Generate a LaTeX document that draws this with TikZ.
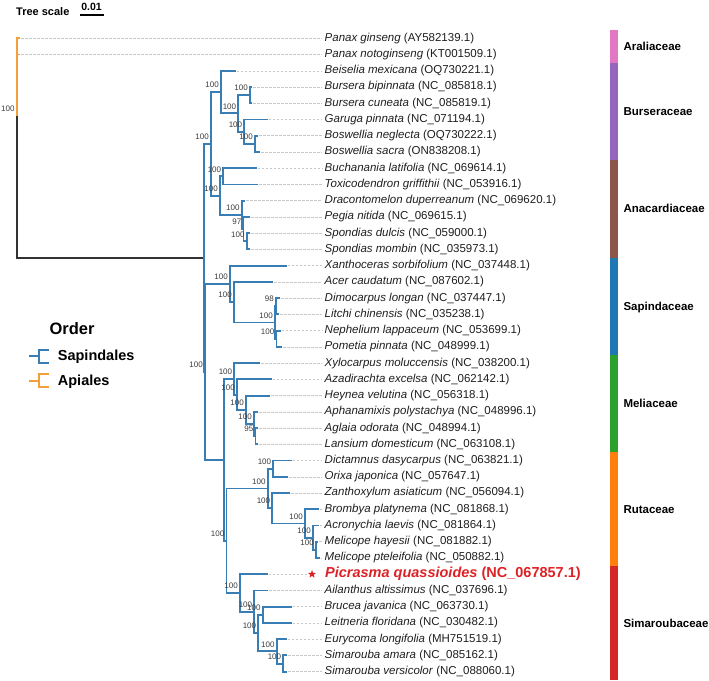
\documentclass[tikz,border=0pt]{standalone}
\usepackage{fontspec}
\setmainfont{Liberation Sans}
\usetikzlibrary{shapes.geometric}

\definecolor{sapblue}{RGB}{56,126,180}
\definecolor{apiorange}{RGB}{243,160,60}
\definecolor{rootgrey}{RGB}{50,50,50}
\definecolor{leadgrey}{RGB}{200,200,200}
\definecolor{txtgrey}{RGB}{30,30,30}
\definecolor{bootgrey}{RGB}{60,60,60}
\definecolor{picred}{RGB}{222,33,38}
\definecolor{aralcol}{RGB}{227,119,194}
\definecolor{burscol}{RGB}{148,103,189}
\definecolor{anaccol}{RGB}{140,86,75}
\definecolor{sapicol}{RGB}{31,119,180}
\definecolor{meliacol}{RGB}{44,160,44}
\definecolor{rutacol}{RGB}{255,127,14}
\definecolor{simacol}{RGB}{214,39,40}

\begin{document}
\begin{tikzpicture}[x=1pt,y=-1pt,
  branch/.style={line width=1.9pt, draw=sapblue},
  apia/.style={line width=1.9pt, draw=apiorange},
  rootline/.style={line width=1.9pt, draw=rootgrey},
  leader/.style={draw=leadgrey, line width=0.6pt, dash pattern=on 2.5pt off 1.5pt, shorten <=1pt},
  taxon/.style={anchor=west, inner sep=2.5pt, text=txtgrey, font=\fontsize{11.5}{13}\selectfont},
  boot/.style={anchor=south east, inner sep=0pt, xshift=-2pt, yshift=4pt, text=bootgrey, font=\fontsize{8}{9}\selectfont},
  famlab/.style={anchor=west, inner sep=0pt, text height=8.2pt, text depth=0pt, font=\bfseries\fontsize{11.5}{13}\selectfont},
  legendlab/.style={anchor=base west, inner sep=0pt, font=\bfseries\fontsize{14.5}{16}\selectfont}]
  \useasboundingbox (0,0) rectangle (709,680);

  % Tree scale
  \node[anchor=west, inner sep=0pt, text height=8pt, text depth=0pt, font=\bfseries\fontsize{11}{13}\selectfont] (scale) at (16,11.7) {Tree scale};
  \node[inner sep=0pt, font=\bfseries\fontsize{10.5}{12}\selectfont] (scaleval) at (91.5,6.5) {0.01};
  \draw[line width=1.3pt] (80,15) -- (104,15);

  % Internal nodes: root and Apiales
  \coordinate (root) at (16.7,116);
  \coordinate (pnx) at (16.7,46.4);

  % Internal nodes: Sapindales backbone
  \coordinate (sap) at (204,257.9);
  \coordinate (nA) at (211,143.9);
  \coordinate (nR) at (205,371.85);
  \coordinate (md) at (224.3,459.75);
  \coordinate (rs) at (226.5,540.7);

  % Internal nodes: Burseraceae
  \coordinate (burs) at (221,92.1);
  \coordinate (nB) at (238.3,113.4);
  \coordinate (bur) at (250,95.15);
  \coordinate (gb) at (244.3,131.7);
  \coordinate (bos) at (255,143.85);

  % Internal nodes: Anacardiaceae
  \coordinate (ana) at (220,195.6);
  \coordinate (bt) at (223.3,176.35);
  \coordinate (dra) at (241.7,214.9);
  \coordinate (peg) at (243.5,229.1);
  \coordinate (spo) at (246.7,241.3);

  % Internal nodes: Sapindaceae
  \coordinate (sapc) at (230,283.95);
  \coordinate (ac) at (234,302.2);
  \coordinate (lit) at (275,322.5);
  \coordinate (dl) at (276,306.25);
  \coordinate (np) at (276.5,338.75);

  % Internal nodes: Meliaceae
  \coordinate (m1) at (234.3,378.8);
  \coordinate (m2) at (237,394.55);
  \coordinate (m3) at (246,409.8);
  \coordinate (m4) at (254,424);
  \coordinate (m5) at (255.5,436.2);

  % Internal nodes: Rutaceae
  \coordinate (rut) at (267.7,488.45);
  \coordinate (dor) at (273.3,468.65);
  \coordinate (z1) at (272.3,508.25);
  \coordinate (b1) at (305,523.5);
  \coordinate (b2) at (313,537.7);
  \coordinate (mel) at (316,549.85);

  % Internal nodes: Simaroubaceae
  \coordinate (sima) at (240,593);
  \coordinate (s2) at (254.3,611.8);
  \coordinate (s3) at (258.3,633.1);
  \coordinate (bl) at (262.7,614.8);
  \coordinate (s4) at (276.7,651.4);
  \coordinate (sim) at (283.3,663.55);

  % Tips: Araliaceae
  \coordinate (pgin) at (20,38.3);
  \coordinate (pnot) at (20,54.5);
  % Tips: Burseraceae
  \coordinate (beis) at (235.7,70.8);
  \coordinate (bbip) at (252,87.0);
  \coordinate (bcun) at (252,103.3);
  \coordinate (garu) at (267.7,119.5);
  \coordinate (bneg) at (258,135.7);
  \coordinate (bsac) at (260,152.0);
  % Tips: Anacardiaceae
  \coordinate (buch) at (256.7,168.2);
  \coordinate (toxi) at (258.3,184.5);
  \coordinate (drac) at (245,200.7);
  \coordinate (pegi) at (250,216.9);
  \coordinate (sdul) at (250,233.2);
  \coordinate (smom) at (250,249.4);
  % Tips: Sapindaceae
  \coordinate (xant) at (286.7,265.7);
  \coordinate (acer) at (273.3,281.9);
  \coordinate (dimo) at (280,298.1);
  \coordinate (litc) at (279,314.4);
  \coordinate (neph) at (280.5,330.6);
  \coordinate (pome) at (282,346.9);
  % Tips: Meliaceae
  \coordinate (xylo) at (260,363.1);
  \coordinate (azad) at (271.7,379.3);
  \coordinate (heyn) at (270,395.6);
  \coordinate (apha) at (258,411.8);
  \coordinate (agla) at (258,428.1);
  \coordinate (lans) at (258,444.3);
  % Tips: Rutaceae
  \coordinate (dict) at (291.7,460.5);
  \coordinate (orix) at (288.3,476.8);
  \coordinate (zant) at (290,493.0);
  \coordinate (brom) at (319,509.3);
  \coordinate (acro) at (319,525.5);
  \coordinate (mhay) at (318,541.7);
  \coordinate (mpte) at (320,558.0);
  % Tips: Simaroubaceae
  \coordinate (picr) at (267.7,574.2);
  \coordinate (aila) at (268.3,590.5);
  \coordinate (bruc) at (291.7,606.7);
  \coordinate (leit) at (291.7,622.9);
  \coordinate (eury) at (286.7,639.2);
  \coordinate (samr) at (287,655.4);
  \coordinate (sver) at (287,671.7);

  % Taxon labels
  \node[taxon] (pgin-l) at (322,38.3) {\textit{Panax ginseng} (AY582139.1)};
  \node[taxon] (pnot-l) at (322,54.5) {\textit{Panax notoginseng} (KT001509.1)};
  \node[taxon] (beis-l) at (322,70.8) {\textit{Beiselia mexicana} (OQ730221.1)};
  \node[taxon] (bbip-l) at (322,87.0) {\textit{Bursera bipinnata} (NC\_085818.1)};
  \node[taxon] (bcun-l) at (322,103.3) {\textit{Bursera cuneata} (NC\_085819.1)};
  \node[taxon] (garu-l) at (322,119.5) {\textit{Garuga pinnata} (NC\_071194.1)};
  \node[taxon] (bneg-l) at (322,135.7) {\textit{Boswellia neglecta} (OQ730222.1)};
  \node[taxon] (bsac-l) at (322,152.0) {\textit{Boswellia sacra} (ON838208.1)};
  \node[taxon] (buch-l) at (322,168.2) {\textit{Buchanania latifolia} (NC\_069614.1)};
  \node[taxon] (toxi-l) at (322,184.5) {\textit{Toxicodendron griffithii} (NC\_053916.1)};
  \node[taxon] (drac-l) at (322,200.7) {\textit{Dracontomelon duperreanum} (NC\_069620.1)};
  \node[taxon] (pegi-l) at (322,216.9) {\textit{Pegia nitida} (NC\_069615.1)};
  \node[taxon] (sdul-l) at (322,233.2) {\textit{Spondias dulcis} (NC\_059000.1)};
  \node[taxon] (smom-l) at (322,249.4) {\textit{Spondias mombin} (NC\_035973.1)};
  \node[taxon] (xant-l) at (322,265.7) {\textit{Xanthoceras sorbifolium} (NC\_037448.1)};
  \node[taxon] (acer-l) at (322,281.9) {\textit{Acer caudatum} (NC\_087602.1)};
  \node[taxon] (dimo-l) at (322,298.1) {\textit{Dimocarpus longan} (NC\_037447.1)};
  \node[taxon] (litc-l) at (322,314.4) {\textit{Litchi chinensis} (NC\_035238.1)};
  \node[taxon] (neph-l) at (322,330.6) {\textit{Nephelium lappaceum} (NC\_053699.1)};
  \node[taxon] (pome-l) at (322,346.9) {\textit{Pometia pinnata} (NC\_048999.1)};
  \node[taxon] (xylo-l) at (322,363.1) {\textit{Xylocarpus moluccensis} (NC\_038200.1)};
  \node[taxon] (azad-l) at (322,379.3) {\textit{Azadirachta excelsa} (NC\_062142.1)};
  \node[taxon] (heyn-l) at (322,395.6) {\textit{Heynea velutina} (NC\_056318.1)};
  \node[taxon] (apha-l) at (322,411.8) {\textit{Aphanamixis polystachya} (NC\_048996.1)};
  \node[taxon] (agla-l) at (322,428.1) {\textit{Aglaia odorata} (NC\_048994.1)};
  \node[taxon] (lans-l) at (322,444.3) {\textit{Lansium domesticum} (NC\_063108.1)};
  \node[taxon] (dict-l) at (322,460.5) {\textit{Dictamnus dasycarpus} (NC\_063821.1)};
  \node[taxon] (orix-l) at (322,476.8) {\textit{Orixa japonica} (NC\_057647.1)};
  \node[taxon] (zant-l) at (322,493.0) {\textit{Zanthoxylum asiaticum} (NC\_056094.1)};
  \node[taxon] (brom-l) at (322,509.3) {\textit{Brombya platynema} (NC\_081868.1)};
  \node[taxon] (acro-l) at (322,525.5) {\textit{Acronychia laevis} (NC\_081864.1)};
  \node[taxon] (mhay-l) at (322,541.7) {\textit{Melicope hayesii} (NC\_081882.1)};
  \node[taxon] (mpte-l) at (322,558.0) {\textit{Melicope pteleifolia} (NC\_050882.1)};
  \node[taxon, text=picred, font=\bfseries\fontsize{14.5}{16}\selectfont] (picr-l) at (322.5,574.2) {\textit{Picrasma quassioides} (NC\_067857.1)};
  \node[star, star points=5, star point ratio=2.4, fill=picred, inner sep=0pt, minimum size=8.5pt] (star) at (312,574.2) {};
  \node[taxon] (aila-l) at (322,590.5) {\textit{Ailanthus altissimus} (NC\_037696.1)};
  \node[taxon] (bruc-l) at (322,606.7) {\textit{Brucea javanica} (NC\_063730.1)};
  \node[taxon] (leit-l) at (322,622.9) {\textit{Leitneria floridana} (NC\_030482.1)};
  \node[taxon] (eury-l) at (322,639.2) {\textit{Eurycoma longifolia} (MH751519.1)};
  \node[taxon] (samr-l) at (322,655.4) {\textit{Simarouba amara} (NC\_085162.1)};
  \node[taxon] (sver-l) at (322,671.7) {\textit{Simarouba versicolor} (NC\_088060.1)};

  % Leaders from tips to labels
  \draw[leader] (pgin) -- (pgin-l);
  \draw[leader] (pnot) -- (pnot-l);
  \draw[leader] (beis) -- (beis-l);
  \draw[leader] (bbip) -- (bbip-l);
  \draw[leader] (bcun) -- (bcun-l);
  \draw[leader] (garu) -- (garu-l);
  \draw[leader] (bneg) -- (bneg-l);
  \draw[leader] (bsac) -- (bsac-l);
  \draw[leader] (buch) -- (buch-l);
  \draw[leader] (toxi) -- (toxi-l);
  \draw[leader] (drac) -- (drac-l);
  \draw[leader] (pegi) -- (pegi-l);
  \draw[leader] (sdul) -- (sdul-l);
  \draw[leader] (smom) -- (smom-l);
  \draw[leader] (xant) -- (xant-l);
  \draw[leader] (acer) -- (acer-l);
  \draw[leader] (dimo) -- (dimo-l);
  \draw[leader] (litc) -- (litc-l);
  \draw[leader] (neph) -- (neph-l);
  \draw[leader] (pome) -- (pome-l);
  \draw[leader] (xylo) -- (xylo-l);
  \draw[leader] (azad) -- (azad-l);
  \draw[leader] (heyn) -- (heyn-l);
  \draw[leader] (apha) -- (apha-l);
  \draw[leader] (agla) -- (agla-l);
  \draw[leader] (lans) -- (lans-l);
  \draw[leader] (dict) -- (dict-l);
  \draw[leader] (orix) -- (orix-l);
  \draw[leader] (zant) -- (zant-l);
  \draw[leader] (brom) -- (brom-l);
  \draw[leader] (acro) -- (acro-l);
  \draw[leader] (mhay) -- (mhay-l);
  \draw[leader] (mpte) -- (mpte-l);
  \draw[leader] (picr) -- (star);
  \draw[leader] (aila) -- (aila-l);
  \draw[leader] (bruc) -- (bruc-l);
  \draw[leader] (leit) -- (leit-l);
  \draw[leader] (eury) -- (eury-l);
  \draw[leader] (samr) -- (samr-l);
  \draw[leader] (sver) -- (sver-l);

  % Edges from root (Apiales)
  \draw[apia] (root) |- (pnx);
  \draw[apia] (pnx) |- (pgin);
  \draw[apia] (pnx) |- (pnot);
  \draw[rootline] (root) |- (sap);

  % Edges of the Sapindales backbone
  \draw[branch] (sap) |- (nA);
  \draw[branch] (sap) |- (nR);
  \draw[branch] (nA) |- (burs);
  \draw[branch] (nA) |- (ana);
  \draw[branch] (nR) |- (sapc);
  \draw[branch] (nR) |- (md);
  \draw[branch] (md) |- (m1);
  \draw[branch] (md) |- (rs);
  \draw[branch] (rs) |- (rut);
  \draw[branch] (rs) |- (sima);

  % Edges in Burseraceae
  \draw[branch] (burs) |- (beis);
  \draw[branch] (burs) |- (nB);
  \draw[branch] (nB) |- (bur);
  \draw[branch] (nB) |- (gb);
  \draw[branch] (bur) |- (bbip);
  \draw[branch] (bur) |- (bcun);
  \draw[branch] (gb) |- (garu);
  \draw[branch] (gb) |- (bos);
  \draw[branch] (bos) |- (bneg);
  \draw[branch] (bos) |- (bsac);

  % Edges in Anacardiaceae
  \draw[branch] (ana) |- (bt);
  \draw[branch] (ana) |- (dra);
  \draw[branch] (bt) |- (buch);
  \draw[branch] (bt) |- (toxi);
  \draw[branch] (dra) |- (drac);
  \draw[branch] (dra) |- (peg);
  \draw[branch] (peg) |- (pegi);
  \draw[branch] (peg) |- (spo);
  \draw[branch] (spo) |- (sdul);
  \draw[branch] (spo) |- (smom);

  % Edges in Sapindaceae
  \draw[branch] (sapc) |- (xant);
  \draw[branch] (sapc) |- (ac);
  \draw[branch] (ac) |- (acer);
  \draw[branch] (ac) |- (lit);
  \draw[branch] (lit) |- (dl);
  \draw[branch] (lit) |- (np);
  \draw[branch] (dl) |- (dimo);
  \draw[branch] (dl) |- (litc);
  \draw[branch] (np) |- (neph);
  \draw[branch] (np) |- (pome);

  % Edges in Meliaceae
  \draw[branch] (m1) |- (xylo);
  \draw[branch] (m1) |- (m2);
  \draw[branch] (m2) |- (azad);
  \draw[branch] (m2) |- (m3);
  \draw[branch] (m3) |- (heyn);
  \draw[branch] (m3) |- (m4);
  \draw[branch] (m4) |- (apha);
  \draw[branch] (m4) |- (m5);
  \draw[branch] (m5) |- (agla);
  \draw[branch] (m5) |- (lans);

  % Edges in Rutaceae
  \draw[branch] (rut) |- (dor);
  \draw[branch] (rut) |- (z1);
  \draw[branch] (dor) |- (dict);
  \draw[branch] (dor) |- (orix);
  \draw[branch] (z1) |- (zant);
  \draw[branch] (z1) |- (b1);
  \draw[branch] (b1) |- (brom);
  \draw[branch] (b1) |- (b2);
  \draw[branch] (b2) |- (acro);
  \draw[branch] (b2) |- (mel);
  \draw[branch] (mel) |- (mhay);
  \draw[branch] (mel) |- (mpte);

  % Edges in Simaroubaceae
  \draw[branch] (sima) |- (picr);
  \draw[branch] (sima) |- (s2);
  \draw[branch] (s2) |- (aila);
  \draw[branch] (s2) |- (s3);
  \draw[branch] (s3) |- (bl);
  \draw[branch] (s3) |- (s4);
  \draw[branch] (bl) |- (bruc);
  \draw[branch] (bl) |- (leit);
  \draw[branch] (s4) |- (eury);
  \draw[branch] (s4) |- (sim);
  \draw[branch] (sim) |- (samr);
  \draw[branch] (sim) |- (sver);

  % Bootstrap values
  \node[boot] (bs-root) at (root) {100};
  \node[boot] (bs-nA) at (nA) {100};
  \node[boot] (bs-burs) at (burs) {100};
  \node[boot] (bs-nB) at (nB) {100};
  \node[boot] (bs-bur) at (bur) {100};
  \node[boot] (bs-gb) at (gb) {100};
  \node[boot] (bs-bos) at (bos) {100};
  \node[boot] (bs-ana) at (ana) {100};
  \node[boot] (bs-bt) at (bt) {100};
  \node[boot] (bs-dra) at (dra) {100};
  \node[boot] (bs-peg) at (peg) {97};
  \node[boot] (bs-spo) at (spo) {100};
  \node[boot] (bs-nR) at (nR) {100};
  \node[boot] (bs-sapc) at (sapc) {100};
  \node[boot] (bs-ac) at (ac) {100};
  \node[boot] (bs-dl) at (dl) {98};
  \node[boot] (bs-lit) at (lit) {100};
  \node[boot] (bs-np) at (np) {100};
  \node[boot] (bs-m1) at (m1) {100};
  \node[boot] (bs-m2) at (m2) {100};
  \node[boot] (bs-m3) at (m3) {100};
  \node[boot] (bs-m4) at (m4) {100};
  \node[boot] (bs-m5) at (m5) {95};
  \node[boot] (bs-rs) at (rs) {100};
  \node[boot] (bs-rut) at (rut) {100};
  \node[boot] (bs-dor) at (dor) {100};
  \node[boot] (bs-z1) at (z1) {100};
  \node[boot] (bs-b1) at (b1) {100};
  \node[boot] (bs-b2) at (b2) {100};
  \node[boot] (bs-mel) at (mel) {100};
  \node[boot] (bs-sima) at (sima) {100};
  \node[boot] (bs-s2) at (s2) {100};
  \node[boot] (bs-bl) at (bl) {100};
  \node[boot] (bs-s3) at (s3) {100};
  \node[boot] (bs-s4) at (s4) {100};
  \node[boot] (bs-sim) at (sim) {100};

  % Family bars
  \fill[aralcol] (610,30.2) rectangle (618.3,62.6);
  \fill[burscol] (610,62.6) rectangle (618.3,160.0);
  \fill[anaccol] (610,160.0) rectangle (618.3,257.5);
  \fill[sapicol] (610,257.5) rectangle (618.3,354.9);
  \fill[meliacol] (610,354.9) rectangle (618.3,452.4);
  \fill[rutacol] (610,452.4) rectangle (618.3,566.0);
  \fill[simacol] (610,566.0) rectangle (618.3,680);

  % Family labels
  \node[famlab] (aral) at (623.3,46.4) {Araliaceae};
  \node[famlab] (burs-f) at (623.3,111.3) {Burseraceae};
  \node[famlab] (anac) at (623.3,208.8) {Anacardiaceae};
  \node[famlab] (sapi) at (623.3,306.2) {Sapindaceae};
  \node[famlab] (melia) at (623.3,403.7) {Meliaceae};
  \node[famlab] (ruta) at (623.3,509.2) {Rutaceae};
  \node[famlab] (simar) at (623.3,622.9) {Simaroubaceae};

  % Legend
  \node[anchor=base west, inner sep=0pt, font=\bfseries\fontsize{16.5}{18}\selectfont] (order) at (49.3,334.2) {Order};
  \draw[branch] (29,356.3) -- (39.3,356.3);
  \draw[branch] (49.3,350) -- (39.3,350) -- (39.3,362.7) -- (49.3,362.7);
  \node[legendlab] (sapl) at (57.7,360.9) {Sapindales};
  \draw[apia] (29,380.6) -- (39.3,380.6);
  \draw[apia] (49.3,374.3) -- (39.3,374.3) -- (39.3,387) -- (49.3,387);
  \node[legendlab] (apil) at (57.7,385.2) {Apiales};
\end{tikzpicture}
\end{document}
